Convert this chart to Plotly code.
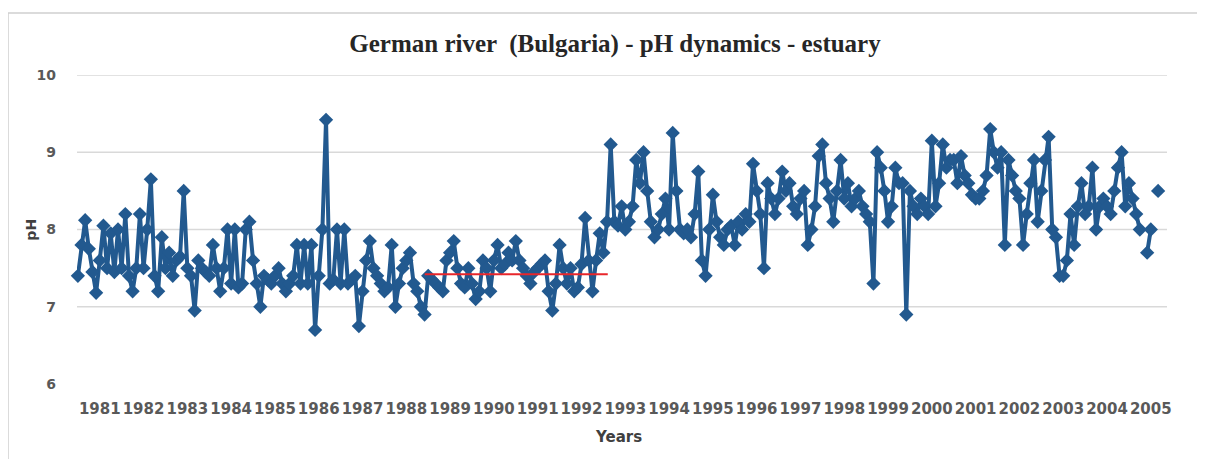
import plotly.graph_objects as go

# monthly pH readings (Jan..Dec); None = missing sample
ph_1981 = [7.4, 7.8, 8.12, 7.75, 7.45, 7.18, 7.6, 8.05, 7.5, 7.95, 7.45, 8.0]
ph_1982 = [7.5, 8.2, 7.4, 7.2, 7.5, 8.2, 7.5, 8.0, 8.65, 7.4, 7.2, 7.9]
ph_1983 = [7.5, 7.7, 7.4, 7.6, 7.65, 8.5, 7.5, 7.4, 6.95, 7.6, 7.5, 7.45]
ph_1984 = [7.4, 7.8, 7.5, 7.2, 7.5, 8.0, 7.3, 8.0, 7.25, 7.3, 8.0, 8.1]
ph_1985 = [7.6, 7.3, 7.0, 7.4, 7.35, 7.3, 7.4, 7.5, 7.3, 7.2, 7.3, 7.4]
ph_1986 = [7.8, 7.3, 7.8, 7.3, 7.8, 6.7, 7.4, 8.0, 9.42, 7.3, 7.35, 8.0]
ph_1987 = [7.3, 8.0, 7.3, 7.35, 7.4, 6.75, 7.2, 7.6, 7.85, 7.5, 7.4, 7.3]
ph_1988 = [7.2, 7.25, 7.8, 7.0, 7.3, 7.5, 7.6, 7.7, 7.3, 7.2, 7.0, 6.9]
ph_1989 = [7.4, 7.35, 7.3, 7.25, 7.2, 7.6, 7.7, 7.85, 7.5, 7.3, 7.25, 7.5]
ph_1990 = [7.3, 7.1, 7.2, 7.6, 7.5, 7.2, 7.6, 7.8, 7.5, 7.55, 7.7, 7.6]
ph_1991 = [7.85, 7.6, 7.5, 7.4, 7.3, 7.45, 7.5, 7.55, 7.6, 7.2, 6.95, 7.3]
ph_1992 = [7.8, 7.5, 7.3, 7.5, 7.2, 7.25, 7.55, 8.15, 7.6, 7.2, 7.6, 7.95]
ph_1993 = [7.7, 8.1, 9.1, 8.1, 8.05, 8.3, 8.0, 8.1, 8.3, 8.9, 8.6, 9.0]
ph_1994 = [8.5, 8.1, 7.9, 8.0, 8.2, 8.4, 8.0, 9.25, 8.5, 8.0, 7.95, 8.0]
ph_1995 = [7.9, 8.2, 8.75, 7.6, 7.4, 8.0, 8.45, 8.1, 7.9, 7.8, 8.0, 8.05]
ph_1996 = [7.8, 8.1, 8.0, 8.2, 8.1, 8.85, 8.5, 8.2, 7.5, 8.6, 8.4, 8.2]
ph_1997 = [8.4, 8.75, 8.5, 8.6, 8.3, 8.2, 8.4, 8.5, 7.8, 8.0, 8.3, 8.95]
ph_1998 = [9.1, 8.6, 8.4, 8.1, 8.5, 8.9, 8.4, 8.6, 8.3, 8.4, 8.5, 8.3]
ph_1999 = [8.2, 8.1, 7.3, 9.0, 8.8, 8.5, 8.1, 8.3, 8.8, 8.6, 8.6, 6.9]
ph_2000 = [8.5, 8.3, 8.2, 8.4, 8.3, 8.2, 9.15, 8.3, 8.6, 9.1, 8.8, 8.9]
ph_2001 = [8.9, 8.6, 8.95, 8.7, 8.6, 8.45, 8.4, 8.4, 8.5, 8.7, 9.3, 9.0]
ph_2002 = [8.8, 9.0, 7.8, 8.9, 8.7, 8.5, 8.4, 7.8, 8.2, 8.6, 8.9, 8.1]
ph_2003 = [8.5, 8.9, 9.2, 8.0, 7.9, 7.4, 7.4, 7.6, 8.2, 7.8, 8.3, 8.6]
ph_2004 = [8.2, 8.3, 8.8, 8.0, 8.3, 8.4, 8.3, 8.2, 8.5, 8.8, 9.0, 8.3]
ph_2005 = [8.6, 8.4, 8.2, 8.0, None, 7.7, 8.0, None, 8.5]

# reference (mean) line for 1989-1992
ref_t = [1988.92, 1993.10]
ref_ph = [7.42, 7.42]

years = list(range(1981, 2006))
year_labels = [str(y) for y in years]
y_ticks = [6, 7, 8, 9, 10]
grid_levels = [7, 8, 9, 10]

series = [ph_1981, ph_1982, ph_1983, ph_1984, ph_1985, ph_1986, ph_1987, ph_1988,
          ph_1989, ph_1990, ph_1991, ph_1992, ph_1993, ph_1994, ph_1995, ph_1996,
          ph_1997, ph_1998, ph_1999, ph_2000, ph_2001, ph_2002, ph_2003, ph_2004, ph_2005]
t_all, ph_all = [], []
for yr, vals in zip(years, series):
    for m, v in enumerate(vals):
        t_all.append(yr + m / 12)
        ph_all.append(v)

BLUE = "#22598f"
TICK = "#595959"
TICK_FONT_Y = dict(family="DejaVu Sans", size=14, color=TICK, weight="bold")
TICK_FONT_X = dict(family="DejaVu Sans", size=15, color=TICK, weight="bold")

fig = go.Figure()
fig.add_trace(go.Scatter(
    x=t_all, y=ph_all, mode="lines+markers",
    line=dict(color=BLUE, width=4),
    marker=dict(symbol="diamond", size=11, color=BLUE),
    connectgaps=False, cliponaxis=False, showlegend=False))
fig.add_trace(go.Scatter(
    x=ref_t, y=ref_ph, mode="lines",
    line=dict(color="#e8262b", width=2),
    showlegend=False))

shapes = []
for g in grid_levels:
    shapes.append(dict(type="line", xref="paper", yref="y", x0=0, x1=1, y0=g, y1=g,
                       line=dict(color="#d9d9d9", width=1.3), layer="below"))
# outer chart frame
shapes.append(dict(type="rect", xref="paper", yref="paper",
                   x0=-0.0633, x1=1.032, y0=-0.35, y1=1.2006,
                   line=dict(color="#d0d0d0", width=1.5), layer="below"))

W, H = 1197, 451
fig.update_layout(
    width=W, height=H,
    margin=dict(l=69, r=38, t=67, b=75),
    paper_bgcolor="white", plot_bgcolor="white",
    title=dict(text="<b>German river  (Bulgaria) - pH dynamics - estuary</b>",
               x=607 / W, xanchor="center", xref="container",
               y=1 - 35 / H, yanchor="middle", yref="container",
               font=dict(family="Liberation Serif", size=25, color="#262626")),
    shapes=shapes,
    annotations=[
        dict(text="<b>pH</b>", xref="paper", yref="paper", x=-0.043, y=0.5,
             xanchor="center", yanchor="middle",
             textangle=-90, showarrow=False,
             font=dict(family="DejaVu Sans", size=14, color="#404040")),
        dict(text="<b>Years</b>", xref="paper", yref="paper", x=0.497, y=-0.172,
             xanchor="center", yanchor="middle",
             showarrow=False, font=dict(family="DejaVu Sans", size=15, color="#404040")),
    ],
    xaxis=dict(range=[1980.98, 2005.87], tickmode="array",
               tickvals=[y + 0.5 for y in years], ticktext=year_labels,
               showgrid=False, zeroline=False, showline=False, ticks="",
               tickfont=TICK_FONT_X, ticklabelstandoff=14, tickangle=0),
    yaxis=dict(range=[6, 10], tickmode="array", tickvals=y_ticks,
               showgrid=False, zeroline=False, showline=False, ticks="",
               tickfont=TICK_FONT_Y, ticklabelstandoff=20),
)

fig.write_html("out.html")
